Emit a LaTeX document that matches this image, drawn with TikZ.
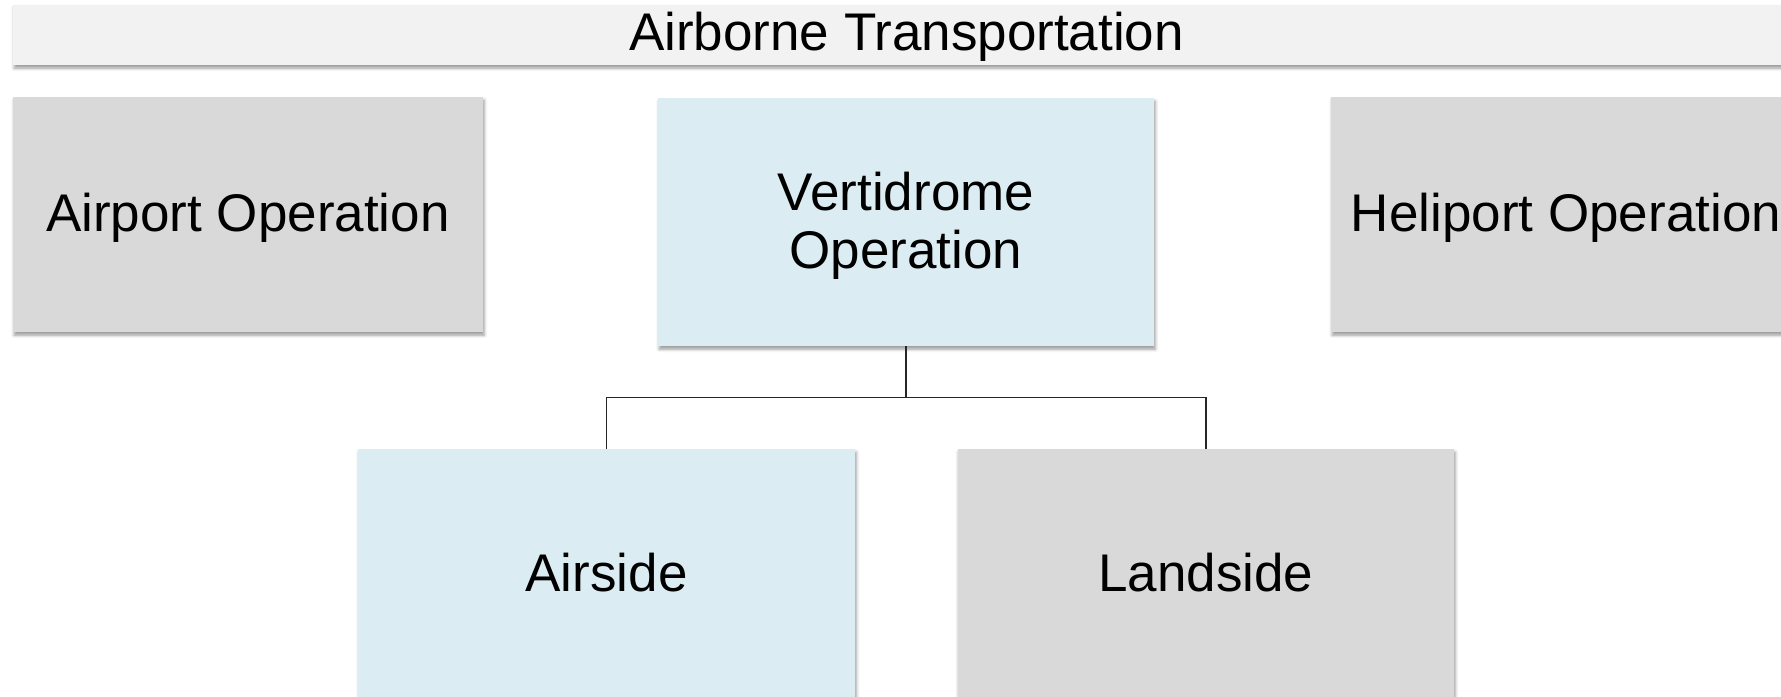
\documentclass[tikz,border=0pt]{standalone}
\usepackage{fontspec}
\setmainfont{Liberation Sans}
\usetikzlibrary{shadows.blur}

\definecolor{barfill}{HTML}{F2F2F2}
\definecolor{greyfill}{HTML}{D9D9D9}
\definecolor{bluefill}{HTML}{DBEDF3}
\definecolor{linkcol}{HTML}{262626}

\tikzset{
  box/.style={
    rectangle, inner sep=0pt, outer sep=0pt, draw=none,
    align=center, text=black,
    font=\fontsize{26.5pt}{28.85pt}\selectfont,
    blur shadow={shadow xshift=0.6pt, shadow yshift=-1.6pt,
                 shadow blur radius=1.6pt, shadow opacity=40}
  },
  greybox/.style={box, fill=greyfill},
  bluebox/.style={box, fill=bluefill},
  titlebar/.style={box, fill=barfill},
  lowtext/.style={text depth=2pt},
  link/.style={draw=linkcol, line width=0.9pt}
}

\begin{document}
\begin{tikzpicture}[x=0.5pt, y=-0.5pt]
  \useasboundingbox (0,0) rectangle (1781,696);
  \clip (0,0) rectangle (1781,696);

  % heading bar
  \node[titlebar, text depth=3.3pt, minimum width=893.5pt, minimum height=30.25pt]
    (title) at (906.5,34.75) {Airborne Transportation};

  % first row
  \node[greybox, lowtext, minimum width=235pt, minimum height=117.5pt]
    (airport) at (248,214.5) {Airport Operation};
  \node[bluebox, lowtext, minimum width=248pt, minimum height=124pt]
    (vert) at (906,222) {Vertidrome\\Operation};
  \node[greybox, lowtext, minimum width=235pt, minimum height=117.5pt]
    (heli) at (1566,214.5) {Heliport Operation};

  % second row
  \node[bluebox, minimum width=248.5pt, minimum height=124pt]
    (airside) at (606.5,573) {Airside};
  \node[greybox, minimum width=248.25pt, minimum height=124pt]
    (landside) at (1205.75,573) {Landside};

  % tree connectors
  \coordinate (fork) at (906,397.5);
  \draw[link] (vert.south) -- (fork);
  \draw[link] (airside.north) |- (fork) -| (landside.north);
\end{tikzpicture}
\end{document}
